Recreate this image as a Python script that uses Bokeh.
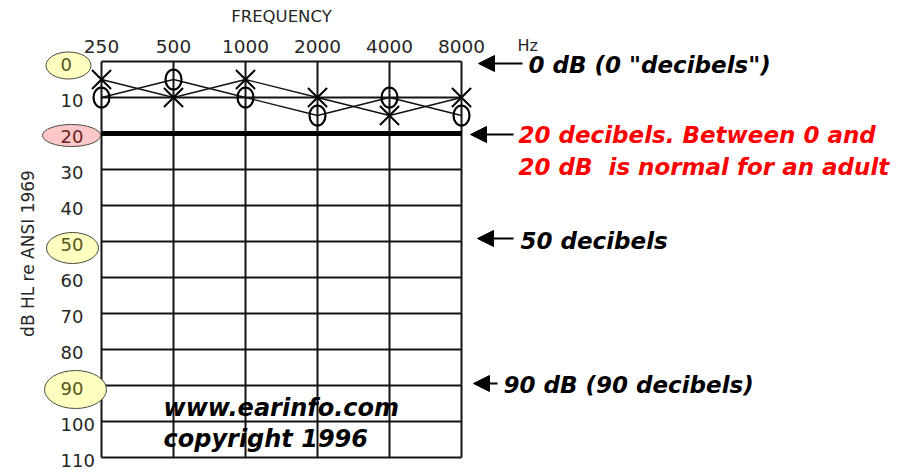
import math
from bokeh.plotting import figure
from bokeh.models import Range1d, LogScale, Arrow, NormalHead
from bokeh.core.properties import value
from bokeh.embed import file_html
from bokeh.resources import INLINE

# ---------------- data ----------------
freqs = [250, 500, 1000, 2000, 4000, 8000]
freq_labels = ["250", "500", "1000", "2000", "4000", "8000"]
cross_db = [5, 10, 5, 10, 15, 10]      # "X" series
circle_db = [10, 5, 10, 15, 10, 15]    # "O" series
db_ticks = [0, 10, 20, 30, 40, 50, 60, 70, 80, 90, 100, 110]
db_labels = ["0", "10", "20", "30", "40", "50", "60", "70", "80", "90", "100", "110"]
marked_db = [0, 20, 50, 90]
normal_limit = 20
note_texts = [
    ['0 dB (0 "decibels")'],
    ["20 decibels. Between 0 and", "20 dB\u00a0 is normal for an adult"],
    ["50 decibels"],
    ["90 dB (90 decibels)"],
]
note_colors = ["black", "red", "black", "black"]
credit_texts = ["www.earinfo.com", "copyright 1996"]

# ---------------- layout (picture pixel positions) ----------------
W, H = 914, 472
GRID_LEFT_PX, GRID_TOP_PX = 101, 61     # px of 250 Hz / 0 dB
OCT_PX, DB_PX = 72.0, 3.6


def hz(px):
    return freqs[0] * 2 ** ((px - GRID_LEFT_PX) / OCT_PX)


def db(py):
    return (py - GRID_TOP_PX) / DB_PX


p = figure(width=W, height=H, x_axis_type=None, y_axis_type=None,
           x_range=Range1d(hz(0), hz(W)),
           y_range=Range1d(db(H), db(0)),
           output_backend="svg", toolbar_location=None, min_border=0)
p.x_scale = LogScale()
p.outline_line_color = None
p.background_fill_color = "white"
p.border_fill_color = "white"

FONT = value("DejaVu Sans")
TXT = "#262626"
GRID_C = "#151515"

# grid box
n_f, n_d = len(freqs), len(db_ticks)
p.segment(x0=freqs, y0=[db_ticks[0]] * n_f, x1=freqs, y1=[db_ticks[-1]] * n_f,
          line_color=GRID_C, line_width=2)
p.segment(x0=[freqs[0]] * n_d, y0=db_ticks, x1=[freqs[-1]] * n_d, y1=db_ticks,
          line_color=GRID_C, line_width=2)
p.segment(x0=[freqs[0]], y0=[normal_limit], x1=[freqs[-1]], y1=[normal_limit],
          line_color="black", line_width=5)

# highlighted dB values (ellipses behind the tick labels)
YEL, PINK = "#ffffc0", "#ffc8c8"
mark_fill = [PINK if v == normal_limit else YEL for v in marked_db]
mark_cx = [68, 71, 72, 75]
mark_cy = [65, 135, 247.5, 389]
mark_w = [45, 58, 52, 62]
mark_h = [27, 22, 31, 38]
p.ellipse(x=[hz(v) for v in mark_cx], y=[db(v) for v in mark_cy], width=mark_w, height=mark_h,
          width_units="screen", height_units="screen",
          fill_color=mark_fill, line_color="#4a4a40", line_width=1)

# tick labels
label_colors = [("#6a2222" if v == normal_limit else "#55551e") if v in marked_db else TXT
                for v in db_ticks]
p.text(x=freqs, y=[db(46)] * n_f, text=freq_labels, text_align="center", text_baseline="middle",
       text_font=FONT, text_font_size="18.5px", text_color=TXT)
p.text(x=[hz(60)] * n_d, y=db_ticks, text=db_labels, y_offset=3, text_align="left",
       text_baseline="middle", text_font=FONT, text_font_size="18px", text_color=label_colors)

# axis titles
p.text(x=[math.sqrt(freqs[0] * freqs[-1])], y=[db(16)], text=["FREQUENCY"], text_align="center",
       text_baseline="middle", text_font=FONT, text_font_size="16.5px", text_color=TXT)
p.text(x=[hz(517)], y=[db(45)], text=["Hz"], text_align="left", text_baseline="middle",
       text_font=FONT, text_font_size="16px", text_color=TXT)
p.text(x=[hz(27)], y=[db(253)], text=["dB HL re ANSI 1969"], angle=math.pi / 2,
       text_align="center", text_baseline="middle", text_font=FONT, text_font_size="17px",
       text_color=TXT)

# data
p.line(freqs, cross_db, line_color="#111111", line_width=1.3)
p.line(freqs, circle_db, line_color="#111111", line_width=1.3)
p.scatter(freqs, cross_db, marker="x", size=27, line_color="black", line_width=2)
p.ellipse(x=freqs, y=circle_db, width=16, height=20, width_units="screen", height_units="screen",
          fill_color=None, line_color="black", line_width=2.2)

# notes on the right with arrows
note_x = [528, 518, 520, 503]
note_y = [[64], [134, 166], [240], [384]]
arrow_tip = [478, 470, 477, 473]
arrow_tail = [522, 513, 513, 497]
arrow_y = [63, 134, 238, 383]
for texts, col, nx, nys, tip, tail, ay in zip(note_texts, note_colors, note_x, note_y,
                                                arrow_tip, arrow_tail, arrow_y):
    p.text(x=[hz(nx)] * len(texts), y=[db(v) for v in nys], text=texts, text_align="left",
           text_baseline="middle", text_font=FONT, text_font_style="bold italic",
           text_font_size="23px", text_color=col)
    p.add_layout(Arrow(end=NormalHead(size=16, fill_color="black", line_color="black"),
                       x_start=hz(tail), y_start=db(ay), x_end=hz(tip), y_end=db(ay),
                       line_color="black", line_width=2))

# credits inside the grid
p.text(x=[hz(163)] * 2, y=[db(407), db(438)], text=credit_texts, text_align="left",
       text_baseline="middle", text_font=FONT, text_font_style="bold italic",
       text_font_size="24px", text_color="black")

open("out.html", "w").write(file_html(p, INLINE))
